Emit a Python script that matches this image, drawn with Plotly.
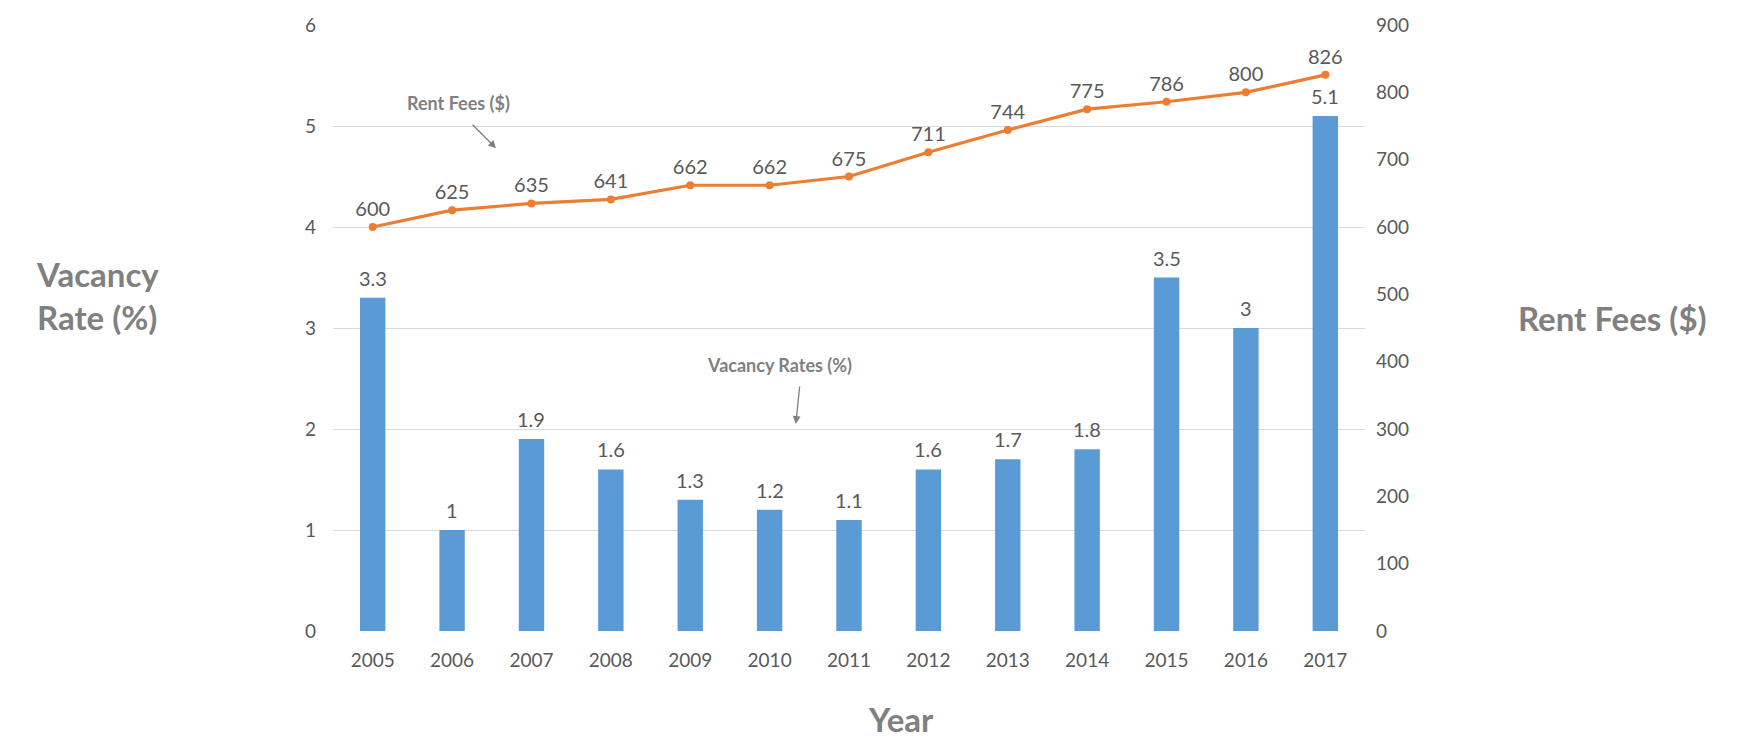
import plotly.graph_objects as go

years = ["2005", "2006", "2007", "2008", "2009", "2010", "2011", "2012", "2013", "2014", "2015", "2016", "2017"]
vacancy_rates = [3.3, 1, 1.9, 1.6, 1.3, 1.2, 1.1, 1.6, 1.7, 1.8, 3.5, 3, 5.1]
rent_fees = [600, 625, 635, 641, 662, 662, 675, 711, 744, 775, 786, 800, 826]

FONT = "Lato"
TICK_COLOR = "#595959"
TITLE_COLOR = "#808080"

fig = go.Figure()
fig.add_trace(go.Bar(
    x=years, y=vacancy_rates, name="Vacancy Rates (%)",
    marker=dict(color="#5b9bd5", line=dict(width=0)),
    width=0.32, yaxis="y",
))
fig.add_trace(go.Scatter(
    x=years, y=rent_fees, name="Rent Fees ($)", mode="lines+markers+text",
    line=dict(color="#ed7d31", width=3.2),
    marker=dict(color="#ed7d31", size=8),
    text=[str(v) for v in rent_fees], textposition="top center",
    textfont=dict(size=20, color=TICK_COLOR, family=FONT),
    cliponaxis=False, yaxis="y2",
))

# bar value labels (x given as category index)
for i, v in enumerate(vacancy_rates):
    fig.add_annotation(x=i, y=v, xref="x", yref="y", text=f"{v:g}", showarrow=False,
                       yanchor="bottom", yshift=6,
                       font=dict(size=20, color=TICK_COLOR, family=FONT))

fig.update_layout(
    width=1744, height=733,
    margin=dict(l=325, r=387, t=17, b=110, autoexpand=False),
    plot_bgcolor="white", paper_bgcolor="white",
    showlegend=False,
    font=dict(family=FONT, color=TICK_COLOR, size=19),
    xaxis=dict(type="category", range=[-0.5, 12.5], showgrid=False, showline=False, automargin=False,
               ticks="", ticklabelstandoff=16, tickfont=dict(size=19, color=TICK_COLOR)),
    yaxis=dict(range=[0, 6], dtick=1, showgrid=True, gridcolor="#d9d9d9", gridwidth=1, automargin=False,
               zeroline=False, showline=False, ticks="", ticklabelstandoff=16,
               tickfont=dict(size=19, color=TICK_COLOR)),
    yaxis2=dict(range=[0, 900], dtick=100, overlaying="y", side="right", showgrid=False, automargin=False,
                zeroline=False, showline=False, ticks="", ticklabelstandoff=10,
                tickfont=dict(size=19, color=TICK_COLOR)),
)

# axis titles
fig.add_annotation(text="<b>Vacancy<br>Rate (%)</b>", xref="paper", yref="paper", x=-0.2897, y=0.554,
                   xanchor="left", yanchor="middle", align="left", showarrow=False,
                   font=dict(size=33, color=TITLE_COLOR, family=FONT))
fig.add_annotation(text="<b>Rent Fees ($)</b>", xref="paper", yref="paper", x=1.146, y=0.517,
                   xanchor="left", yanchor="middle", showarrow=False,
                   font=dict(size=33, color=TITLE_COLOR, family=FONT))
fig.add_annotation(text="<b>Year</b>", xref="paper", yref="paper", x=0.550, y=-0.145,
                   xanchor="center", yanchor="middle", showarrow=False,
                   font=dict(size=33, color=TITLE_COLOR, family=FONT))

# callouts
fig.add_annotation(x=1.075, y=5.23, xref="x", yref="y", text="<b>Rent Fees ($)</b>", showarrow=False,
                   font=dict(size=18, color=TITLE_COLOR, family=FONT))
fig.add_annotation(x=1.554, y=4.78, xref="x", yref="y", ax=-25, ay=-25, text="",
                   showarrow=True, arrowhead=2, arrowsize=1.2, arrowwidth=1.3, arrowcolor="#7f7f7f")
fig.add_annotation(x=5.13, y=2.63, xref="x", yref="y", text="<b>Vacancy Rates (%)</b>", showarrow=False,
                   font=dict(size=18, color=TITLE_COLOR, family=FONT))
fig.add_annotation(x=5.33, y=2.05, xref="x", yref="y", ax=4, ay=-39, text="",
                   showarrow=True, arrowhead=2, arrowsize=1.2, arrowwidth=1.3, arrowcolor="#7f7f7f")

fig.write_html("out.html")
